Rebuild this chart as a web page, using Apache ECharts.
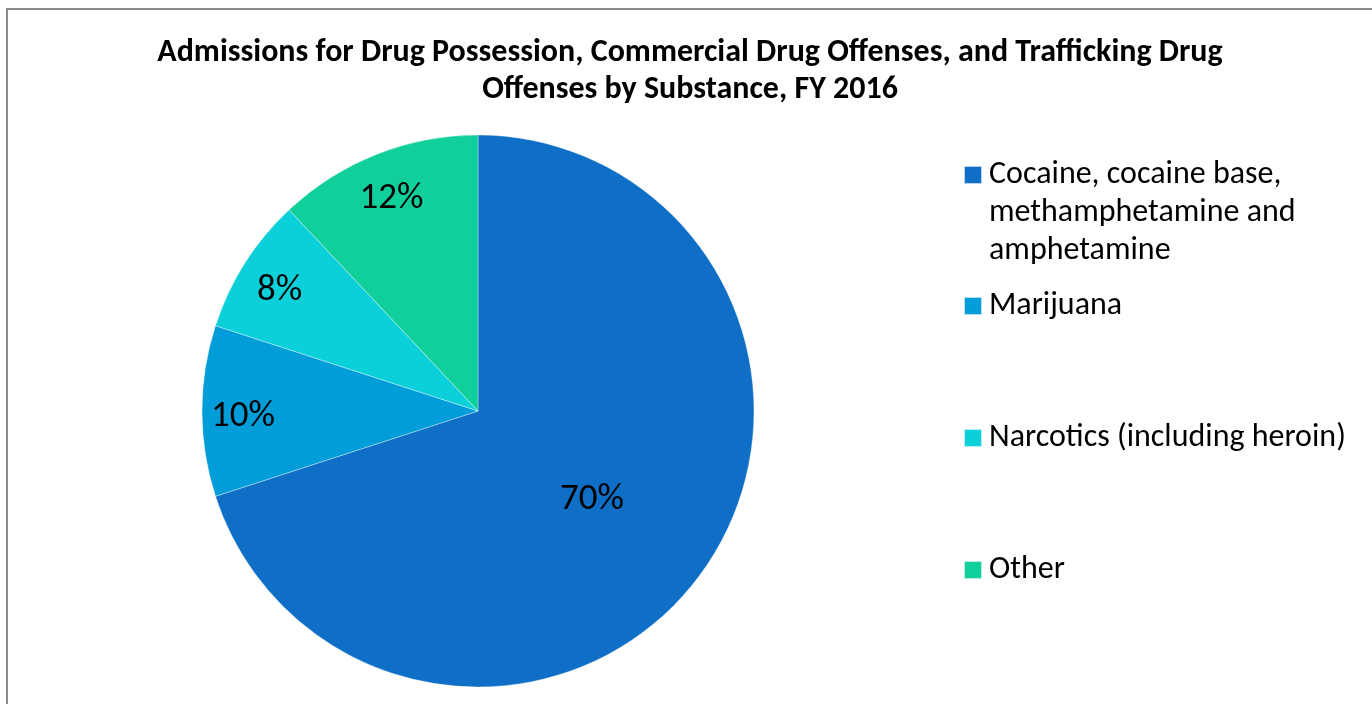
<!DOCTYPE html>
<html>
<head>
<meta charset="utf-8">
<script src="https://cdn.jsdelivr.net/npm/echarts@6/dist/echarts.min.js"></script>
<style>
html,body{margin:0;padding:0;background:#fff;}
#chart{width:1372px;height:704px;}
</style>
</head>
<body>
<div id="chart"></div>
<script>
const titleText = 'Admissions for Drug Possession, Commercial Drug Offenses, and Trafficking Drug\nOffenses by Substance, FY 2016';
const categories = ['Cocaine, cocaine base,\nmethamphetamine and\namphetamine', 'Marijuana', 'Narcotics (including heroin)', 'Other'];
const values = [70, 10, 8, 12];
const colors = ['#0F6FC6', '#009DD9', '#0BD0D9', '#10CF9B'];
const legendTops = [80, 287, 419, 551];

const FONT = "Carlito, Calibri, 'Open Sans', sans-serif";
const chart = echarts.init(document.getElementById('chart'));

const pieData = categories.map((name, i) => ({ name: name, value: values[i] }));

const legends = categories.map((name, i) => ({
  data: [name],
  orient: 'vertical',
  left: 963,
  top: legendTops[i],
  padding: 0,
  icon: 'rect',
  itemWidth: 18,
  itemHeight: 18,
  selectedMode: false,
  // multi-line entry: two leading empty lines so the first text line sits beside the key
  formatter: n => (n.indexOf('\n') >= 0 ? '\n\n' + n : n),
  textStyle: {
    fontFamily: FONT,
    fontSize: 32,
    color: '#000',
    lineHeight: 38,
    padding: [0, 0, 0, 2]
  }
}));

const labelStyle = {
  show: true,
  position: 'inside',
  fontFamily: FONT,
  fontSize: 37,
  color: '#000',
  offset: [0, 6]
};

chart.setOption({
  animation: false,
  color: colors,
  title: {
    text: titleText,
    left: 690,
    textAlign: 'center',
    top: 34,
    padding: 0,
    textStyle: {
      fontFamily: FONT,
      fontWeight: 'bold',
      fontSize: 32,
      lineHeight: 37,
      color: '#000'
    }
  },
  legend: legends,
  graphic: [{
    type: 'rect',
    shape: { x: 7, y: 9, width: 1500, height: 900 },
    style: { fill: 'none', stroke: '#8c8c8c', lineWidth: 2 },
    silent: true
  }],
  series: [
    {
      type: 'pie',
      center: [478, 411],
      radius: [0, 276],
      startAngle: 90,
      clockwise: true,
      itemStyle: { borderColor: 'rgba(255,255,255,0.7)', borderWidth: 0.5 },
      label: Object.assign({}, labelStyle, {
        formatter: p => (p.dataIndex === 0 ? p.value + '%' : '')
      }),
      labelLine: { show: false },
      emphasis: { disabled: true },
      data: pieData
    },
    {
      type: 'pie',
      center: [478, 411],
      radius: [188, 276],
      startAngle: 90,
      clockwise: true,
      silent: true,
      legendHoverLink: false,
      itemStyle: { color: 'rgba(0,0,0,0)', borderWidth: 0 },
      label: Object.assign({}, labelStyle, {
        formatter: p => (p.dataIndex === 0 ? '' : p.value + '%')
      }),
      labelLine: { show: false },
      emphasis: { disabled: true },
      data: pieData
    }
  ]
});
</script>
</body>
</html>
